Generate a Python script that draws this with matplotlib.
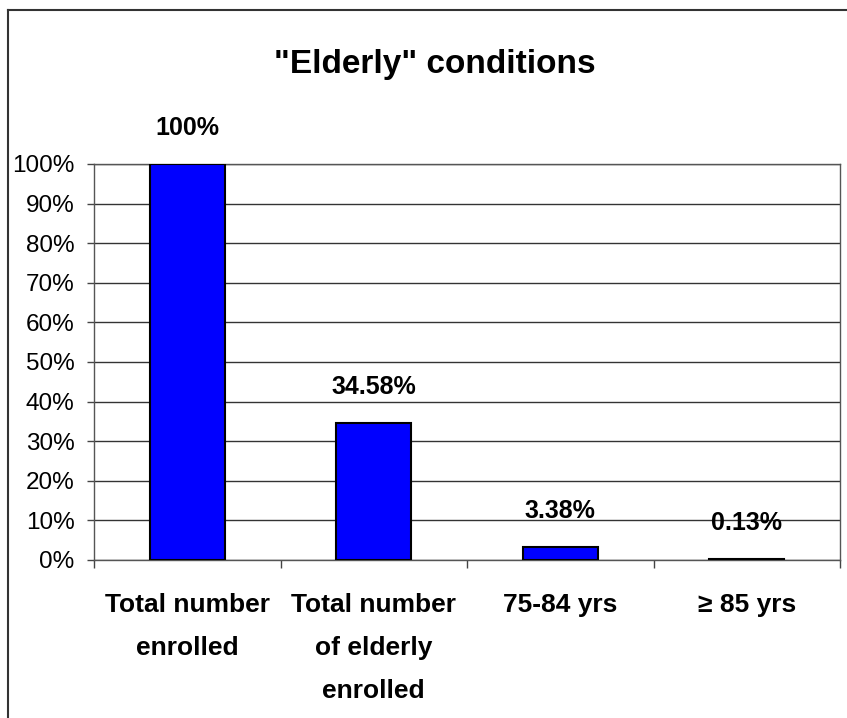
import numpy as np
import matplotlib
matplotlib.use("Agg")
import matplotlib.pyplot as plt
import matplotlib.ticker as ticker
from matplotlib.lines import Line2D

plt.rcParams['font.family'] = ['Liberation Sans Narrow', 'Liberation Sans', 'DejaVu Sans']

# data
categories = ["Total number\nenrolled", "Total number\nof elderly\nenrolled", "75-84 yrs", "\u2265 85 yrs"]
values = [100, 34.58, 3.38, 0.13]
value_labels = ["100%", "34.58%", "3.38%", "0.13%"]

W, H = 847, 718
fig = plt.figure(figsize=(W / 100, H / 100), dpi=100)
ax = fig.add_axes([94 / W, (H - 560) / H, (840 - 94) / W, (560 - 164) / H])

x = np.arange(len(categories))
ax.bar(x, values, width=0.4, color="#0000FF", edgecolor="black", linewidth=1.5, zorder=3)

for xi, v, lab in zip(x, values, value_labels):
    ax.annotate(lab, (xi, v), xytext=(0, 26), textcoords="offset points",
                ha="center", va="center", fontsize=18, fontweight="bold")

ax.set_xlim(-0.5, 3.5)
ax.set_ylim(0, 100)

# y axis
ax.yaxis.set_major_locator(ticker.MultipleLocator(10))
ax.yaxis.set_major_formatter(ticker.FuncFormatter(lambda v, p: "%d%%" % v))
ax.tick_params(axis="y", length=5, width=1, color="#444444", pad=9, labelsize=17.5)
ax.grid(axis="y", color="#333333", linewidth=1, zorder=0)

# x axis: ticks on category boundaries, labels in the middle
ax.xaxis.set_major_locator(ticker.FixedLocator(np.arange(-0.5, 4, 1.0)))
ax.xaxis.set_major_formatter(ticker.NullFormatter())
ax.xaxis.set_minor_locator(ticker.FixedLocator(x))
ax.xaxis.set_minor_formatter(ticker.FixedFormatter(categories))
ax.tick_params(axis="x", which="major", length=6, width=1, color="#444444")
ax.tick_params(axis="x", which="minor", length=0, pad=24, labelsize=19)
for t in ax.xaxis.get_minorticklabels():
    t.set_fontweight("bold")
    t.set_linespacing(1.98)

for sp in ax.spines.values():
    sp.set_color("#555555")
    sp.set_linewidth(1)

fig.text(435 / W, 1 - 64 / H, '"Elderly" conditions', ha="center", va="center",
         fontsize=24, fontweight="bold")

# outer chart border (left and top)
fig.add_artist(Line2D([8 / W, 8 / W], [0, 1 - 10 / H], transform=fig.transFigure, color="#333333", lw=1.5))
fig.add_artist(Line2D([8 / W, 1], [1 - 10 / H, 1 - 10 / H], transform=fig.transFigure, color="#333333", lw=1.5))

fig.savefig("out.png", dpi=100)
